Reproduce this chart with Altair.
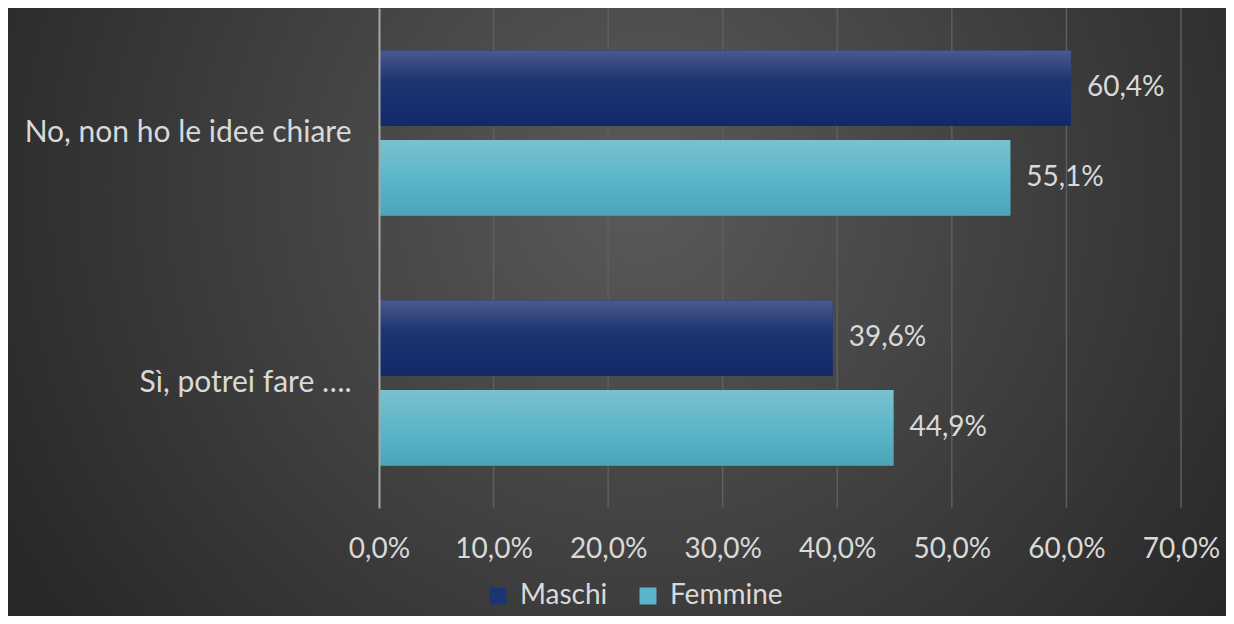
import altair as alt
import pandas as pd

categories = ["No, non ho le idee chiare", "Sì, potrei fare …."]
series = ["Maschi", "Femmine"]
maschi = [0.604, 0.396]
femmine = [0.551, 0.449]
ticks = [0.0, 0.1, 0.2, 0.3, 0.4, 0.5, 0.6, 0.7]

rows = []
for i, c in enumerate(categories):
    rows.append({"cat": c, "serie": "Maschi", "val": maschi[i]})
    rows.append({"cat": c, "serie": "Femmine", "val": femmine[i]})
df = pd.DataFrame(rows)
grid_df = pd.DataFrame({"t": ticks[1:]})

W, H = 802, 500
PL, PT, PR, PB = 371, 0, 45, 108
FONT = "Lato"
TXT = "#d9d9d9"
FS = 28
FMT = "replace(format(datum.value, '.1%'), '.', ',')"

x_enc = alt.X(
    "val:Q",
    scale=alt.Scale(domain=[0, 0.7], nice=False, zero=True),
    axis=alt.Axis(
        values=ticks, labelExpr=FMT, title=None, domain=False, ticks=False,
        grid=False, zindex=1, labelOverlap=False, labelFlush=False,
        labelFontSize=FS, labelColor=TXT, labelFont=FONT, labelPadding=27,
    ),
)
y_enc = alt.Y(
    "cat:N", sort=categories,
    scale=alt.Scale(paddingInner=0.34, paddingOuter=0.17),
    axis=alt.Axis(
        title=None, domain=True, domainColor="#a6a6a6", domainWidth=2,
        ticks=False, grid=False, labelFontSize=30, labelColor=TXT, zindex=1,
        labelFont=FONT, labelPadding=28, labelLimit=0,
    ),
)
yoff = alt.YOffset("serie:N", sort=series,
                   scale=alt.Scale(paddingInner=0.157, paddingOuter=0))

bg = alt.Chart(alt.Data(values=[{"a": 1}])).mark_rect(
    fill=alt.RadialGradient(
        gradient="radial",
        stops=[alt.GradientStop(offset=0, color="#5a5a5a"),
               alt.GradientStop(offset=1, color="#292929")],
        x1=0.52, y1=0.4, r1=0, x2=0.52, y2=0.4, r2=0.58,
    )
).encode(
    x=alt.value(-PL), x2=alt.value(W + PR), y=alt.value(-PT), y2=alt.value(H + PB)
)

grid = alt.Chart(grid_df).mark_rule(color="#5e5e5e", strokeWidth=1.5).encode(
    x=alt.X("t:Q"), y=alt.value(0), y2=alt.value(H)
)

base = alt.Chart(df)

bars = base.mark_bar().encode(
    x=x_enc, y=y_enc, yOffset=yoff,
    color=alt.Color(
        "serie:N", sort=series,
        scale=alt.Scale(domain=series, range=["#1d3472", "#5bb4c7"]),
        legend=alt.Legend(
            title=None, orient="none", direction="horizontal",
            legendX=105, legendY=574, symbolType="square", symbolSize=289,
            symbolStrokeWidth=0, symbolOpacity=1, labelFontSize=FS,
            labelColor=TXT, labelFont=FONT, labelOffset=8, columnPadding=26,
        ),
    ),
)

grad_m = alt.LinearGradient(
    gradient="linear", x1=0, y1=0, x2=0, y2=1,
    stops=[alt.GradientStop(offset=0, color="#4a5a8c"),
           alt.GradientStop(offset=0.4, color="#1d3572"),
           alt.GradientStop(offset=1, color="#112968")],
)
grad_f = alt.LinearGradient(
    gradient="linear", x1=0, y1=0, x2=0, y2=1,
    stops=[alt.GradientStop(offset=0, color="#7ac1cf"),
           alt.GradientStop(offset=0.5, color="#5db6ca"),
           alt.GradientStop(offset=1, color="#4aa5b9")],
)

bars_m = base.transform_filter(alt.datum.serie == "Maschi").mark_bar(fill=grad_m).encode(
    x=alt.X("val:Q"), y=alt.Y("cat:N", sort=categories), yOffset=alt.YOffset("serie:N", sort=series)
)
bars_f = base.transform_filter(alt.datum.serie == "Femmine").mark_bar(fill=grad_f).encode(
    x=alt.X("val:Q"), y=alt.Y("cat:N", sort=categories), yOffset=alt.YOffset("serie:N", sort=series)
)

labels = base.transform_calculate(
    lab="replace(format(datum.val, '.1%'), '.', ',')"
).mark_text(
    align="left", baseline="middle", dx=16, fontSize=FS, font=FONT, color=TXT
).encode(
    x=alt.X("val:Q"), y=alt.Y("cat:N", sort=categories),
    yOffset=alt.YOffset("serie:N", sort=series), text="lab:N"
)

chart = alt.layer(bg, grid, bars, bars_m, bars_f, labels).properties(
    width=W, height=H,
    autosize=alt.AutoSizeParams(type="none"),
    padding={"left": PL, "top": PT, "right": PR, "bottom": PB},
    background="#3a3a3a",
).configure_view(stroke=None)

chart.save("out.html", embed_options={"renderer": "svg", "actions": False})
